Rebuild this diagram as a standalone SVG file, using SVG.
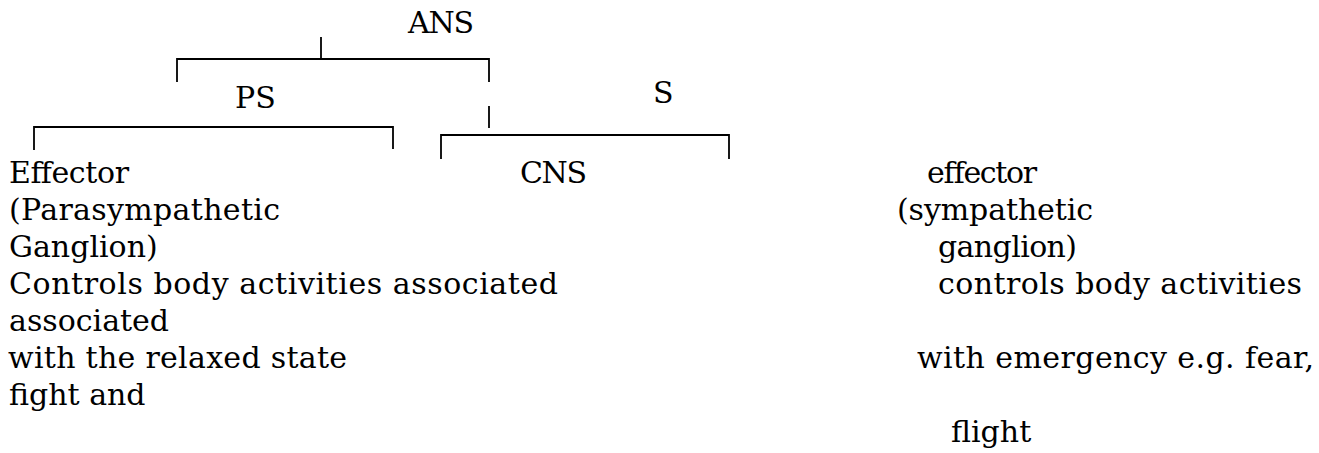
<svg xmlns="http://www.w3.org/2000/svg" width="1319" height="453" viewBox="0 0 1319 453">
<style>
text{font-family:"DejaVu Serif","Liberation Serif",serif;font-size:30px;fill:#000}
.ln{fill:none;stroke:#000;stroke-width:1.8}
</style>
<rect width="1319" height="453" fill="#fff"/>
<g id="connectors">
<path class="ln" d="M321,37V59"/>
<path class="ln" d="M177,82V59H489V82"/>
<path class="ln" d="M489,106V128"/>
<path class="ln" d="M34,150V127H393V149"/>
<path class="ln" d="M441,159V135H729V159"/>
</g>
<g id="ans"><text x="408" y="33" textLength="66">ANS</text></g>
<g id="ps"><text x="235" y="108">PS</text></g>
<g id="s"><text x="653" y="103">S</text></g>
<g id="cns"><text x="520" y="183" textLength="67">CNS</text></g>
<g id="ps-effector">
<text x="9" y="183" textLength="120">Effector</text>
<text x="9" y="220" textLength="271">(Parasympathetic</text>
<text x="9" y="257">Ganglion)</text>
<text x="9" y="294" textLength="549" lengthAdjust="spacing">Controls body activities associated</text>
<text x="9" y="331">associated</text>
<text x="8" y="368" textLength="339" lengthAdjust="spacing">with the relaxed state</text>
<text x="9" y="405">fight and</text>
</g>
<g id="s-effector">
<text x="927" y="183" textLength="110">effector</text>
<text x="897" y="220" textLength="196">(sympathetic</text>
<text x="938" y="257" textLength="139">ganglion)</text>
<text x="938" y="294" textLength="364" lengthAdjust="spacing">controls body activities</text>
<text x="917" y="368" textLength="397" lengthAdjust="spacing">with emergency e.g. fear,</text>
<text x="951" y="442">flight</text>
</g>
</svg>
